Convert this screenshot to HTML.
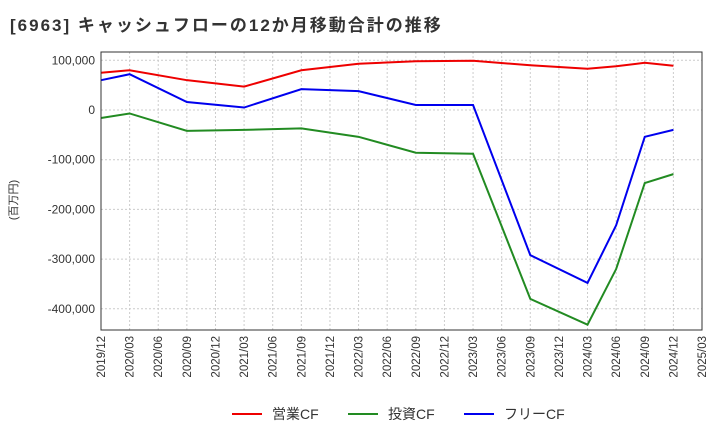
<!DOCTYPE html>
<html><head><meta charset="utf-8"><style>
body{margin:0;background:#fff;font-family:"Liberation Sans","Noto Sans CJK JP",sans-serif;}
</style></head><body>
<svg width="720" height="440" xmlns="http://www.w3.org/2000/svg" id="c" font-family="Liberation Sans, Noto Sans CJK JP, sans-serif">
<text x="10" y="31" font-size="17" font-weight="bold" letter-spacing="2" fill="#333">[6963]  キャッシュフローの12か月移動合計の推移</text>
<text transform="translate(17,200) rotate(-90)" font-size="11" fill="#333" text-anchor="middle">(百万円)</text>
<g id="grid"></g><g id="lines"></g><g id="axes"></g>
<g font-size="14" fill="#333">
<line x1="232" y1="414" x2="262" y2="414" stroke="#e00" stroke-width="2"/><text x="272" y="419">営業CF</text>
<line x1="348" y1="414" x2="378" y2="414" stroke="#228b22" stroke-width="2"/><text x="388" y="419">投資CF</text>
<line x1="464" y1="414" x2="494" y2="414" stroke="#00e" stroke-width="2"/><text x="504" y="419">フリーCF</text>
</g>
</svg>
<script>
const tickLabels=["2019/12","2020/03","2020/06","2020/09","2020/12","2021/03","2021/06","2021/09","2021/12","2022/03","2022/06","2022/09","2022/12","2023/03","2023/06","2023/09","2023/12","2024/03","2024/06","2024/09","2024/12","2025/03"];
const yTicks=[100000,0,-100000,-200000,-300000,-400000];
const pointIdx=[0,1,3,5,7,9,11,13,15,17,18,19,20];
const operatingCF=[75000,80000,60000,47000,80000,93000,98000,99000,90000,83000,88000,95000,89000];
const investingCF=[-16000,-7000,-42000,-40000,-37000,-54000,-86000,-88000,-380000,-432000,-320000,-147000,-129000];
const freeCF=[60000,72000,16000,5000,42000,38000,10000,10000,-292000,-348000,-232000,-54000,-40000];
const L=101,R=702,T=52,B=330;
const x=i=>L+(R-L)*i/21;
const y=v=>110-v*0.000497;
const NS="http://www.w3.org/2000/svg";
function mk(t,a,p){const e=document.createElementNS(NS,t);for(const k in a)e.setAttribute(k,a[k]);p.appendChild(e);return e;}
const g=document.getElementById('grid'),ax=document.getElementById('axes'),ln=document.getElementById('lines');
yTicks.forEach(v=>{const l=mk('line',{x1:L,x2:R,y1:y(v),y2:y(v),stroke:'#ccc','stroke-dasharray':'2,2'},g);


const t=mk('text',{x:L-6,y:y(v)+4,'text-anchor':'end','font-size':'12',fill:'#333'},ax);t.textContent=v.toLocaleString('en-US');

});
tickLabels.forEach((s,i)=>{const l=mk('line',{x1:x(i),x2:x(i),y1:T,y2:B,stroke:'#ccc','stroke-dasharray':'2,2'},g);


const t=mk('text',{transform:`translate(${x(i)+4},${B+6}) rotate(-90)`,'text-anchor':'end','font-size':'11.5',fill:'#333'},ax);t.textContent=s;

});
const f=mk('rect',{x:L,y:T,width:R-L,height:B-T,fill:'none',stroke:'#333'},ax);


[[operatingCF,'#e00','operating-cf-line'],[investingCF,'#228b22','investing-cf-line'],[freeCF,'#00e','free-cf-line']].forEach(([d,c,n])=>{
const p=mk('polyline',{points:d.map((v,k)=>x(pointIdx[k])+','+y(v)).join(' '),fill:'none',stroke:c,'stroke-width':2},ln);

});
</script>
</body></html>
